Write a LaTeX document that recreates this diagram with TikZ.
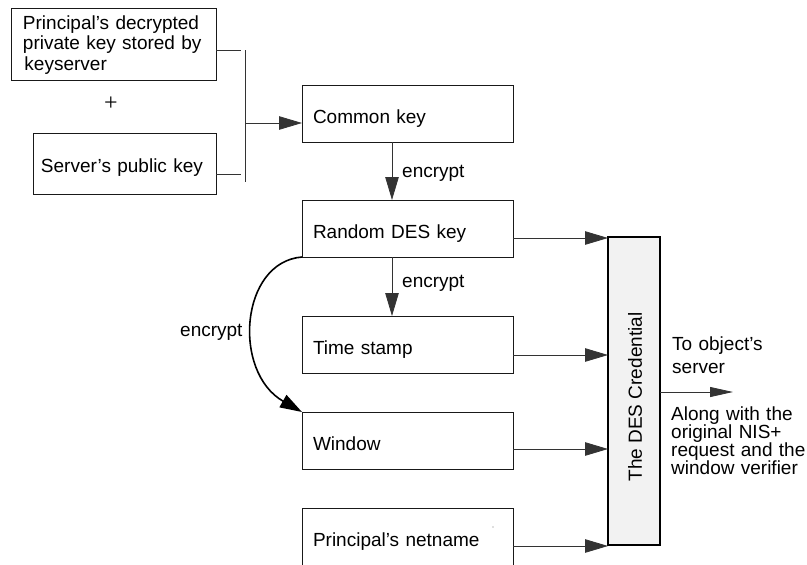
\documentclass[tikz,border=0pt]{standalone}
\usepackage{fontspec}
\setmainfont{Liberation Sans}
\newfontfamily\plusfont{Liberation Serif}
\usetikzlibrary{arrows.meta,calc}
\newcommand\ffnt{\fontsize{19pt}{20.5pt}\selectfont}
\tikzset{
  boxbase/.style={draw=black!90, line width=0.9pt, outer sep=0pt, inner ysep=0pt, align=left, anchor=north west, font=\ffnt},
  stagebox/.style={boxbase, text width=189pt, inner xsep=11pt, text height=38.5pt, text depth=18.5pt},
  conn/.style={draw=black!80, line width=0.8pt},
  arr/.style={conn, -{Triangle[length=23pt,width=13.5pt]}},
  lbl/.style={font=\ffnt, inner sep=0pt, anchor=base west},
}
\begin{document}
\begin{tikzpicture}[x=1pt,y=-1pt]
\useasboundingbox (0,0) rectangle (807,565);

% left boxes
\node[boxbase, text width=181pt, inner xsep=12pt, text height=21pt, text depth=51pt] (b1) at (11,8)
  {Principal’s decrypted\\private key stored by\\\hspace*{1.5pt}keyserver};
\node[font=\plusfont\fontsize{24pt}{24pt}\selectfont, inner sep=0pt] (plus) at (111,104) {+};
\node[boxbase, text width=167pt, inner xsep=8pt, text height=39pt, text depth=22pt] (b2) at (33,133)
  {Server’s public key};

% stage boxes
\node[stagebox] (ck) at (302,85) {Common key};
\node[stagebox] (rd) at (302,200) {Random DES key};
\node[stagebox] (ts) at (302,316) {Time stamp};
\node[stagebox] (wn) at (302,412) {Window};
\node[stagebox] (nn) at (302,508) {Principal’s netname};
\fill[black!55] (493,527) circle (0.7pt);

% credential
\node[draw=black, line width=1.3pt, fill=black!5, minimum width=52pt, minimum height=308pt, inner sep=0pt, outer sep=0pt] (cred) at (634,391) {};
\node[rotate=90, font=\ffnt, inner sep=0pt] (credtxt) at (635,397) {The DES Credential};

% left joins
\coordinate (j1) at (241,50);
\coordinate (j2) at (241,174);
\coordinate (v1) at (245,50);
\coordinate (v2) at (245,182);
\coordinate (j3) at (245,123);
\draw[conn] (b1.east |- j1) -- (j1);
\draw[conn] (b2.east |- j2) -- (j2);
\draw[conn] (v1) -- (v2);
\draw[arr] (j3) -- (j3 -| ck.west);

% encrypt chain
\coordinate (ex) at (392,0);
\draw[arr] (ck.south -| ex) -- (rd.north -| ex);
\draw[arr] (rd.south -| ex) -- (ts.north -| ex);
\node[lbl] (enc1) at (402,177) {encrypt};
\node[lbl] (enc2) at (402,287) {encrypt};

% curved arrow
\draw[line width=1.6pt, -{Triangle[length=22pt,width=14pt]}] (rd.south west) .. controls (240,262) and (232,372) .. (wn.north west);
\node[lbl] (enc3) at (180,336) {encrypt};

% arrows to credential
\coordinate (p1) at ($(rd.south east)+(0,-19)$);
\coordinate (p2) at ($(ts.south east)+(0,-18)$);
\coordinate (p3) at ($(wn.south east)+(0,-20)$);
\coordinate (p4) at ($(nn.south east)+(0,-19)$);
\draw[arr] (p1) -- (p1 -| cred.west);
\draw[arr] (p2) -- (p2 -| cred.west);
\draw[arr] (p3) -- (p3 -| cred.west);
\draw[arr] (p4) -- (p4 -| cred.west);

% output
\coordinate (o1) at (733,392);
\draw[conn, -{Triangle[length=23pt,width=10pt]}] (o1 -| cred.east) -- (o1);
\node[font=\fontsize{19pt}{23pt}\selectfont, text width=130pt, align=left, inner sep=0pt, text height=14pt, anchor=north west] (to) at (672,336) {To object’s\\server};
\node[font=\fontsize{19pt}{18pt}\selectfont, text width=135pt, align=left, inner sep=0pt, text height=14pt, anchor=north west] (along) at (671,406) {Along with the\\original NIS+\\request and the\\window verifier};
\end{tikzpicture}
\end{document}
